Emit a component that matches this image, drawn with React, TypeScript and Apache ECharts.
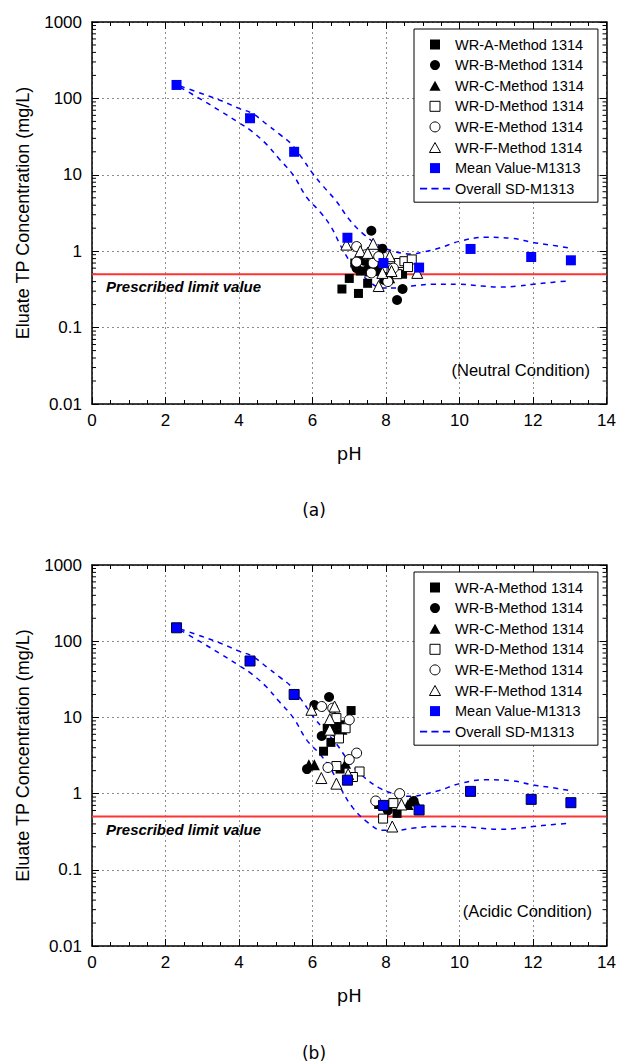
import React, { useEffect, useRef } from "react";
import * as echarts from "echarts";

const X_MIN = 0;
const X_MAX = 14;
const X_INTERVAL = 2;
const Y_MIN = 0.01;
const Y_MAX = 1000;

const LIMIT_VALUE = 0.5;
const limitLine: number[][] = [[X_MIN, LIMIT_VALUE], [X_MAX, LIMIT_VALUE]];

const NAME_A = "WR-A-Method 1314";
const NAME_B = "WR-B-Method 1314";
const NAME_C = "WR-C-Method 1314";
const NAME_D = "WR-D-Method 1314";
const NAME_E = "WR-E-Method 1314";
const NAME_F = "WR-F-Method 1314";
const NAME_MEAN = "Mean Value-M1313";
const NAME_SD = "Overall SD-M1313";

// Mean value M1313 (pH, mg/L)
const meanM1313: number[][] = [
  [2.3, 150], [4.3, 55], [5.5, 20], [6.95, 1.5], [7.93, 0.7], [8.9, 0.61],
  [10.3, 1.07], [11.95, 0.84], [13.03, 0.76],
];

// Overall SD envelope M1313
const sdUpper: number[][] = [
  [2.4, 145], [3.0, 115], [3.5, 94], [4.0, 74], [4.35, 64], [4.75, 46], [5.1, 34],
  [5.4, 26], [5.7, 17], [6.0, 10.5], [6.3, 7], [6.65, 4.5], [7.0, 2.6], [7.37, 1.7],
  [7.8, 1.2], [8.2, 1.0], [8.7, 0.92], [9.0, 0.97], [9.45, 1.1], [10.0, 1.35],
  [10.7, 1.52], [11.4, 1.48], [12.0, 1.3], [12.5, 1.2], [13.0, 1.1],
];
const sdLower: number[][] = [
  [2.4, 140], [3.0, 95], [3.5, 68], [4.0, 48], [4.35, 37], [4.75, 25], [5.1, 16],
  [5.47, 10], [5.85, 5], [6.2, 3.3], [6.5, 2.1], [6.8, 1.1], [7.1, 0.65], [7.5, 0.42],
  [7.9, 0.33], [8.3, 0.33], [8.7, 0.35], [9.3, 0.37], [10.0, 0.37], [10.6, 0.35],
  [11.1, 0.34], [11.6, 0.35], [12.0, 0.37], [12.5, 0.39], [13.0, 0.41],
];

// (a) Neutral condition, Method 1314
const neutralA: number[][] = [[6.8, 0.32], [7.0, 0.44], [7.25, 0.28], [7.5, 0.38], [7.3, 0.55], [7.55, 0.62], [8.0, 0.45], [8.45, 0.5], [7.15, 0.7]];
const neutralB: number[][] = [[7.6, 1.85], [7.9, 1.08], [8.45, 0.32], [8.3, 0.23], [7.2, 0.6], [7.4, 0.75], [7.75, 0.55], [7.95, 0.42]];
const neutralC: number[][] = [[7.2, 0.7], [7.35, 0.85], [7.55, 0.55], [7.8, 0.65], [8.1, 0.45], [7.45, 0.6]];
const neutralD: number[][] = [[8.0, 0.6], [8.15, 0.55], [8.35, 0.7], [8.5, 0.74], [8.7, 0.78], [8.3, 0.5], [8.6, 0.62]];
const neutralE: number[][] = [[7.2, 1.15], [7.2, 0.72], [7.45, 0.9], [7.6, 0.52], [7.65, 0.7], [7.8, 0.85], [8.05, 0.4], [8.2, 0.6]];
const neutralF: number[][] = [[6.92, 1.22], [7.3, 1.0], [7.5, 0.95], [7.65, 1.25], [7.9, 0.52], [8.1, 0.86], [8.15, 0.55], [7.8, 0.35], [8.85, 0.52]];

// (b) Acidic condition, Method 1314
const acidicA: number[][] = [[6.3, 3.6], [6.5, 4.7], [6.4, 7.2], [6.75, 8.0], [7.05, 12.3], [6.75, 2.1], [7.8, 0.72], [8.3, 0.55]];
const acidicB: number[][] = [[6.45, 18.5], [6.05, 14.5], [6.25, 5.7], [5.85, 2.1], [6.6, 6.5], [8.05, 0.6], [8.75, 0.8], [7.95, 0.68]];
const acidicC: number[][] = [[5.9, 2.4], [6.05, 2.4], [6.8, 7.0], [6.6, 8.5], [8.8, 0.8], [8.6, 0.72], [6.9, 2.5]];
const acidicD: number[][] = [[6.65, 9.8], [6.9, 7.2], [6.72, 5.3], [6.65, 2.3], [7.28, 1.95], [7.1, 1.65], [7.92, 0.47], [8.2, 0.75]];
const acidicE: number[][] = [[6.25, 13.9], [6.55, 13.2], [7.0, 9.3], [7.2, 3.4], [7.0, 2.8], [6.42, 2.2], [7.72, 0.8], [8.37, 1.0]];
const acidicF: number[][] = [[5.97, 12.6], [6.6, 13.9], [6.47, 9.5], [6.47, 6.9], [6.24, 1.6], [6.65, 1.35], [6.97, 1.8], [8.17, 0.37], [8.42, 0.72]];

// log-axis minor tick positions (2..9 x each decade)
const MINOR_MULTIPLIERS = [2, 3, 4, 5, 6, 7, 8, 9];
const DECADES = [0.01, 0.1, 1, 10, 100];

const SANS = "'Liberation Sans', Arial, sans-serif";
const DEJAVU = "'DejaVu Sans', sans-serif";

const SQUARE = "path://M0,0H10V10H0Z";
const TRIANGLE = "path://M5,0L10,9H0Z";
const DASHES = "path://M0,0H5V1.2H0Z M8,0H13V1.2H8Z M16,0H21V1.2H16Z";

function buildOption() {
  const minorVals: number[][] = [];
  DECADES.forEach((d) => MINOR_MULTIPLIERS.forEach((m) => minorVals.push([X_MIN, +(d * m).toPrecision(3)])));

  const panels = [
    { top: 22, height: 382, data: [neutralA, neutralB, neutralC, neutralD, neutralE, neutralF], meanBorder: 0 },
    { top: 565, height: 381, data: [acidicA, acidicB, acidicC, acidicD, acidicE, acidicF], meanBorder: 1 },
  ];

  const grid: any[] = [];
  const xAxis: any[] = [];
  const yAxis: any[] = [];
  const series: any[] = [];
  const legend: any[] = [];

  const axisLineStyle = { color: "#000", width: 1.5 };
  const split = { show: true, lineStyle: { color: "#8c8c8c", type: [2, 3], width: 1 } };

  panels.forEach((p, i) => {
    grid.push({ left: 92, top: p.top, width: 516, height: p.height });
    const xBase = {
      type: "value", gridIndex: i, min: X_MIN, max: X_MAX, interval: X_INTERVAL,
      axisLine: { show: true, onZero: false, lineStyle: axisLineStyle },
      axisTick: { show: true, inside: true, length: 7, lineStyle: { color: "#000", width: 1 } },
      minorTick: { show: true, splitNumber: 4, length: 4, lineStyle: { color: "#000", width: 1 } },
    };
    xAxis.push({
      ...xBase, position: "bottom",
      axisLabel: { color: "#000", fontSize: 17, fontFamily: SANS, margin: 8 },
      splitLine: split,
      name: "pH", nameLocation: "middle", nameGap: 40,
      nameTextStyle: { color: "#000", fontSize: 18, fontFamily: DEJAVU },
    });
    xAxis.push({ ...xBase, position: "top", axisLabel: { show: false }, splitLine: { show: false } });

    const yBase = {
      type: "log", logBase: 10, gridIndex: i, min: Y_MIN, max: Y_MAX,
      axisLine: { show: true, onZero: false, lineStyle: axisLineStyle },
      axisTick: { show: true, inside: true, length: 7, lineStyle: { color: "#000", width: 1 } },
    };
    yAxis.push({
      ...yBase, position: "left",
      axisLabel: {
        color: "#000", fontSize: 17, fontFamily: SANS, margin: 10,
        formatter: (v: number) => String(+Number(v).toPrecision(6)),
      },
      splitLine: split,
      name: "Eluate TP Concentration (mg/L)", nameLocation: "middle", nameGap: 60,
      nameTextStyle: { color: "#000", fontSize: 18, fontFamily: SANS },
    });
    yAxis.push({ ...yBase, position: "right", axisLabel: { show: false }, splitLine: { show: false } });

    const xi = i * 2;
    const yi = i * 2;

    series.push({
      type: "custom", name: "minor" + i, xAxisIndex: xi, yAxisIndex: yi, silent: true, clip: false,
      data: minorVals,
      renderItem: (_params: any, api: any) => {
        const v = api.value(1);
        const l = api.coord([X_MIN, v]);
        const r = api.coord([X_MAX, v]);
        const st = { stroke: "#000", lineWidth: 1 };
        return {
          type: "group",
          children: [
            { type: "line", shape: { x1: l[0], y1: l[1], x2: l[0] + 4, y2: l[1] }, style: st },
            { type: "line", shape: { x1: r[0] - 4, y1: r[1], x2: r[0], y2: r[1] }, style: st },
          ],
        };
      },
    });

    series.push({
      type: "line", name: "limit" + i, xAxisIndex: xi, yAxisIndex: yi, data: limitLine,
      symbol: "none", silent: true, lineStyle: { color: "#ff3333", width: 2 }, z: 2,
    });

    [sdUpper, sdLower].forEach((sd) => {
      series.push({
        type: "line", name: NAME_SD, xAxisIndex: xi, yAxisIndex: yi, data: sd, smooth: 0.4,
        symbol: "none", lineStyle: { color: "#0000ff", width: 1.5, type: [5, 5] }, z: 3,
      });
    });

    const defs = [
      { name: NAME_A, symbol: "rect", size: 9, fill: "#000" },
      { name: NAME_B, symbol: "circle", size: 10, fill: "#000" },
      { name: NAME_C, symbol: "triangle", size: 11, fill: "#000" },
      { name: NAME_D, symbol: "rect", size: 9, fill: "#fff" },
      { name: NAME_E, symbol: "circle", size: 10, fill: "#fff" },
      { name: NAME_F, symbol: "triangle", size: 11, fill: "#fff" },
    ];
    defs.forEach((d, k) => {
      series.push({
        type: "scatter", name: d.name, xAxisIndex: xi, yAxisIndex: yi, data: p.data[k],
        symbol: d.symbol, symbolSize: d.size, z: 4,
        itemStyle: { color: d.fill, borderColor: "#000", borderWidth: d.fill === "#fff" ? 1 : 0, opacity: 1 },
      });
    });

    series.push({
      type: "scatter", name: NAME_MEAN, xAxisIndex: xi, yAxisIndex: yi, data: meanM1313,
      symbol: "rect", symbolSize: 10, z: 5,
      itemStyle: { color: "#0000ff", borderColor: "#000033", borderWidth: p.meanBorder, opacity: 1 },
    });

    const open = { color: "#fff", borderColor: "#000", borderWidth: 1 };
    const solid = { color: "#000", borderWidth: 0 };
    legend.push({
      orient: "vertical", left: 414, top: p.top + 7, padding: [8, 14, 6, 6],
      itemWidth: 30, itemHeight: 10, itemGap: 5.6,
      borderColor: "#000", borderWidth: 1, backgroundColor: "#fff",
      selectedMode: false,
      textStyle: { color: "#000", fontSize: 14.5, fontFamily: SANS },
      data: [
        { name: NAME_A, icon: SQUARE, itemStyle: solid },
        { name: NAME_B, icon: "circle", itemStyle: solid },
        { name: NAME_C, icon: TRIANGLE, itemStyle: solid },
        { name: NAME_D, icon: SQUARE, itemStyle: open },
        { name: NAME_E, icon: "circle", itemStyle: open },
        { name: NAME_F, icon: TRIANGLE, itemStyle: open },
        { name: NAME_MEAN, icon: SQUARE, itemStyle: { color: "#0000ff", borderWidth: 0 } },
        { name: NAME_SD, icon: DASHES, itemStyle: { color: "#0000ff", borderWidth: 0 } },
      ],
    });
  });

  const graphic: any[] = [
    { type: "text", x: 106, y: 286, style: { text: "Prescribed limit value", font: `italic bold 15px ${SANS}`, fill: "#000", textVerticalAlign: "middle" } },
    { type: "text", x: 106, y: 829, style: { text: "Prescribed limit value", font: `italic bold 15px ${SANS}`, fill: "#000", textVerticalAlign: "middle" } },
    { type: "text", x: 590, y: 370, style: { text: "(Neutral Condition)", font: `16.5px ${SANS}`, fill: "#000", textAlign: "right", textVerticalAlign: "middle" } },
    { type: "text", x: 592, y: 911, style: { text: "(Acidic Condition)", font: `16.5px ${SANS}`, fill: "#000", textAlign: "right", textVerticalAlign: "middle" } },
    { type: "text", x: 314, y: 510, style: { text: "(a)", font: `17px ${DEJAVU}`, fill: "#000", textAlign: "center", textVerticalAlign: "middle" } },
    { type: "text", x: 314, y: 1053, style: { text: "(b)", font: `17px ${DEJAVU}`, fill: "#000", textAlign: "center", textVerticalAlign: "middle" } },
  ];

  return {
    animation: false,
    backgroundColor: "#fff",
    grid, xAxis, yAxis, series, legend, graphic,
  };
}

export default function App() {
  const ref = useRef<HTMLDivElement>(null);
  useEffect(() => {
    if (!ref.current) return;
    const chart = echarts.init(ref.current, null, { renderer: "svg" });
    chart.setOption(buildOption() as any);
    return () => chart.dispose();
  }, []);
  return (
    <div
      ref={ref}
      style={{ position: "absolute", left: 0, top: 0, width: 619, height: 1064, background: "#fff" }}
    />
  );
}
